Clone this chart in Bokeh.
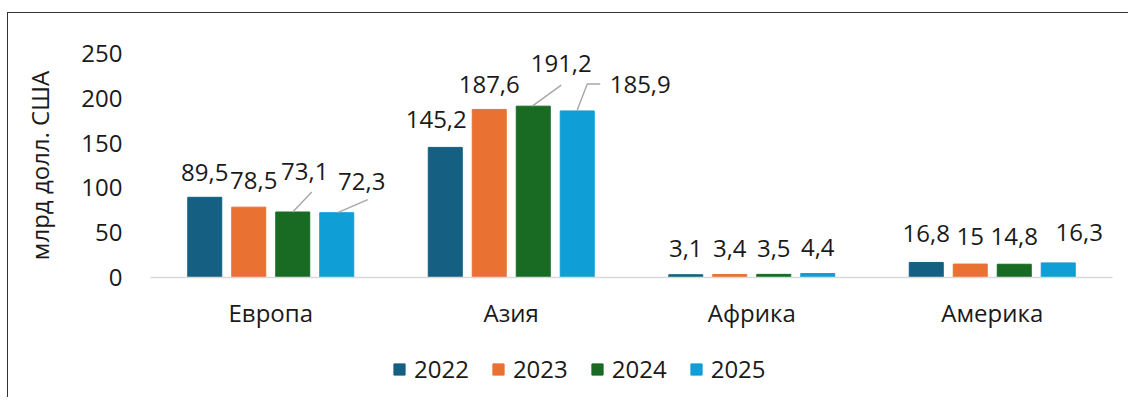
from bokeh.plotting import figure
from bokeh.layouts import column
from bokeh.models import Range1d, FixedTicker, Legend, LegendItem, ColumnDataSource
from bokeh.embed import file_html
from bokeh.resources import INLINE
from bokeh.core.properties import value

# ---- data ----
categories = ["Европа", "Азия", "Африка", "Америка"]
years = ["2022", "2023", "2024", "2025"]
v2022 = [89.5, 145.2, 3.1, 16.8]
v2023 = [78.5, 187.6, 3.4, 15]
v2024 = [73.1, 191.2, 3.5, 14.8]
v2025 = [72.3, 185.9, 4.4, 16.3]
y_ticks = [0, 50, 100, 150, 200, 250]
series = [v2022, v2023, v2024, v2025]

# ---- styles ----
colors = ["#156082", "#E97132", "#196B24", "#0F9ED5"]
FONT = "Open Sans"
TXT = "#1a1a1a"
FS = "24px"
offsets = [-0.2744, -0.0915, 0.0915, 0.2744]
bar_w = 0.1414
# label pixel offsets (dx, dy) relative to bar top, per series/category
lab_dx = [[0, -9, 0, 0], [5, 0, 0, 0], [12, 28, 0, 0], [25, 63, 0, 21]]
lab_dy = [[-25, -28, -26, -29], [-27, -25, -26, -28], [-41, -43, -26, -28], [-31, -26, -26, -30]]
# leader lines: (series, category, list of pixel offsets from bar top)
leaders = [(2, 0, [(0, 0), (19, -20)]),
           (3, 0, [(1, 0), (31, -13)]),
           (2, 1, [(-1, 0), (28, -21)]),
           (3, 1, [(0, -1), (10, -27), (23, -27)])]

FRAME_W, FRAME_H = 962, 224
W, H1, H2 = 1120, 332, 52
p = figure(width=W, height=H1, output_backend="svg", toolbar_location=None,
           x_range=Range1d(0, len(categories)), y_range=Range1d(0, 250),
           min_border_left=142, min_border_right=W - 142 - FRAME_W,
           min_border_top=40, min_border_bottom=H1 - 40 - FRAME_H)
p.outline_line_color = None
p.grid.visible = False
p.background_fill_color = "white"
p.border_fill_color = "white"

px_x = len(categories) / FRAME_W
px_y = 250 / FRAME_H

renderers = []
for si, vals in enumerate(series):
    xs = [i + 0.5 + offsets[si] for i in range(len(categories))]
    src = ColumnDataSource(dict(x=xs, top=vals,
                                lab=[f"{v:g}".replace(".", ",") for v in vals],
                                dx=lab_dx[si], dy=lab_dy[si]))
    r = p.vbar(x="x", top="top", width=bar_w, source=src,
               fill_color=colors[si], line_color=colors[si])
    renderers.append(r)
    p.text(x="x", y="top", text="lab", x_offset="dx", y_offset="dy", source=src,
           text_align="center", text_baseline="middle", text_color=TXT,
           text_font=value(FONT), text_font_size=FS)

lx, ly = [], []
for si, ci, pts in leaders:
    bx = ci + 0.5 + offsets[si]
    by = series[si][ci]
    lx.append([bx + dx * px_x for dx, dy in pts])
    ly.append([by - dy * px_y for dx, dy in pts])
p.multi_line(xs=lx, ys=ly, line_color="#a6a6a6", line_width=1.4)

# axes
xa = p.xaxis[0]
xa.ticker = FixedTicker(ticks=[i + 0.5 for i in range(len(categories))])
xa.major_label_overrides = {i + 0.5: c for i, c in enumerate(categories)}
xa.axis_line_color = "#d9d9d9"
xa.axis_line_width = 1.5
xa.major_tick_line_color = None
xa.minor_tick_line_color = None
xa.major_label_standoff = 12
xa.major_label_text_font = FONT
xa.major_label_text_font_size = FS
xa.major_label_text_color = TXT

ya = p.yaxis[0]
ya.ticker = FixedTicker(ticks=y_ticks)
ya.axis_line_color = None
ya.major_tick_line_color = None
ya.minor_tick_line_color = None
ya.major_label_standoff = 22
ya.major_label_text_font = FONT
ya.major_label_text_font_size = FS
ya.major_label_text_color = TXT
ya.axis_label = "млрд долл. США"
ya.axis_label_text_font = FONT
ya.axis_label_text_font_size = FS
ya.axis_label_text_font_style = "normal"
ya.axis_label_text_color = TXT
ya.axis_label_standoff = 22

# legend figure (swatches come from renderers placed far outside its visible range)
p2 = figure(width=W, height=H2, output_backend="svg", toolbar_location=None,
            x_range=Range1d(0, 1), y_range=Range1d(0, 1),
            min_border=0, min_border_left=0, min_border_right=0,
            min_border_top=0, min_border_bottom=0)
p2.axis.visible = False
p2.grid.visible = False
p2.outline_line_color = None
p2.border_fill_color = "white"
dummies = [p2.vbar(x=[-1000], top=[-1000], bottom=[-1001], width=0.1,
                   fill_color=c, line_color=c) for c in colors]
legend = Legend(items=[LegendItem(label=y, renderers=[r]) for y, r in zip(years, dummies)],
                orientation="horizontal", location=(242, 12),
                glyph_width=14, glyph_height=14, label_standoff=8, spacing=22,
                padding=0, margin=0, border_line_color=None, background_fill_alpha=0,
                label_text_font=FONT, label_text_font_size=FS, label_text_color=TXT)
p2.add_layout(legend)

layout = column(p, p2, spacing=0)
layout.margin = (12, 0, 0, 7)
layout.styles = {"border-top": "1px solid #333333", "border-left": "1px solid #333333"}

open("out.html", "w").write(file_html(layout, INLINE))
